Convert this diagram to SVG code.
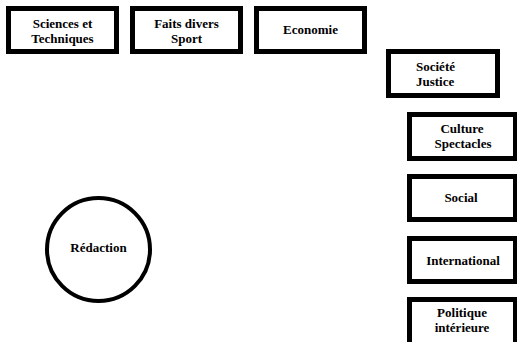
<svg xmlns="http://www.w3.org/2000/svg" width="517" height="342" viewBox="0 0 517 342">
<style>
.box{fill:#fff;stroke:#000;stroke-width:5}
.circ{fill:#fff;stroke:#000;stroke-width:4}
.t{font-family:"Liberation Serif","Times New Roman",serif;font-weight:bold;font-size:13px;fill:#000;text-anchor:middle}
.l{text-anchor:start}
</style>
<rect width="517" height="342" fill="#fff"/>
<g id="connectors"></g>
<g id="sciences">
<rect class="box" x="8.5" y="8.5" width="108" height="43"/>
<text class="t" x="62.5" y="28">Sciences et<tspan x="62.5" y="42.5">Techniques</tspan></text>
</g>
<g id="faits-divers">
<rect class="box" x="132.5" y="8.5" width="108" height="43"/>
<text class="t" x="186.5" y="28">Faits divers<tspan x="186.5" y="42.5">Sport</tspan></text>
</g>
<g id="economie">
<rect class="box" x="256.5" y="8.5" width="108" height="43"/>
<text class="t" x="310.5" y="34">Economie</text>
</g>
<g id="societe">
<rect class="box" x="388.5" y="51.5" width="109" height="44"/>
<text class="t l" x="416" y="71">Société<tspan x="416" y="85.5">Justice</tspan></text>
</g>
<g id="culture">
<rect class="box" x="409.5" y="114.5" width="106" height="44"/>
<text class="t" x="462" y="133">Culture<tspan x="463" y="147.5">Spectacles</tspan></text>
</g>
<g id="social">
<rect class="box" x="409.5" y="176.5" width="106" height="43"/>
<text class="t" x="461" y="202">Social</text>
</g>
<g id="international">
<rect class="box" x="409.5" y="238.5" width="106" height="43"/>
<text class="t" x="463" y="265">International</text>
</g>
<g id="politique">
<rect class="box" x="409.5" y="299.5" width="106" height="46"/>
<text class="t" x="462" y="317">Politique<tspan x="462" y="331.5">intérieure</tspan></text>
</g>
<g id="redaction">
<circle class="circ" cx="98.5" cy="249.5" r="51.5"/>
<text class="t" x="98.5" y="252">Rédaction</text>
</g>
</svg>
